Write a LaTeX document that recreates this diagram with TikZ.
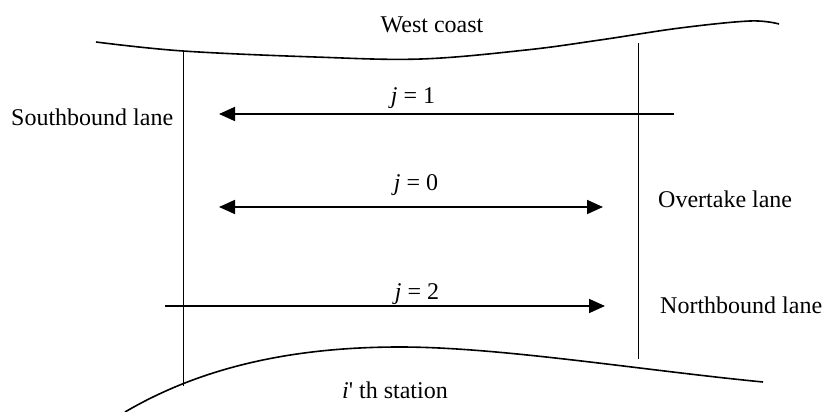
\documentclass[tikz,border=0pt]{standalone}
\usepackage{fontspec}
\setmainfont{Liberation Serif}
\usetikzlibrary{arrows.meta}
\tikzset{
  lbl/.style={inner sep=0pt, anchor=base, font=\fontsize{24}{28}\selectfont},
  lblw/.style={lbl, anchor=base west},
  shore/.style={line width=1.6pt},
  divider/.style={line width=1pt},
  head/.tip={Triangle[length=16pt,width=14pt]},
  flow/.style={line width=1.7pt, -head},
  flowboth/.style={line width=1.7pt, head-head}
}
\begin{document}
\begin{tikzpicture}[x=1pt,y=-1pt]
\useasboundingbox (0,0) rectangle (823,412);

% coast lines
\draw[shore] plot[smooth, tension=0.6] coordinates {(96,42) (183,51) (315,57) (421,59) (526,50) (600,40) (680,28) (750,21) (779,24)};
\draw[shore] (125,412) .. controls (200,368) and (290,347) .. (400,347)
                       .. controls (500,347) and (640,370) .. (763,382);

% section boundaries
\coordinate (lt) at (183,52);
\coordinate (lb) at (183,386);
\coordinate (rt) at (638,43);
\coordinate (rb) at (638,359);
\draw[divider] (lt) -- (lb);
\draw[divider] (rt) -- (rb);

% lane flows
\coordinate (s1) at (674,114);
\coordinate (e1) at (219,114);
\coordinate (s0) at (219,207);
\coordinate (e0) at (603,207);
\coordinate (s2) at (165,306);
\coordinate (e2) at (605,306);
\draw[flow] (s1) -- (e1);
\draw[flowboth] (s0) -- (e0);
\draw[flow] (s2) -- (e2);

% labels
\node[lbl] (west) at (432,33) {West coast};
\node[lbl] (j1) at (413,103) {\textit{j} = 1};
\node[lbl] (j0) at (416,190) {\textit{j} = 0};
\node[lbl] (j2) at (417,299) {\textit{j} = 2};
\node[lblw] (south) at (11,125) {Southbound lane};
\node[lblw] (over) at (658,207) {Overtake lane};
\node[lblw] (north) at (660,313) {Northbound lane};
\node[lbl] (stat) at (395,398) {\textit{i}\textquotesingle{} th station};
\end{tikzpicture}
\end{document}
